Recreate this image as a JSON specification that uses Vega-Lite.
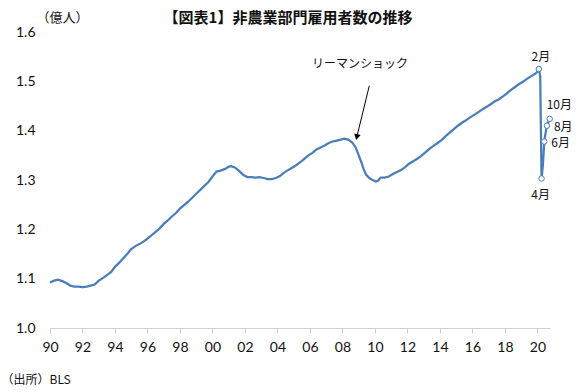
{
  "$schema": "https://vega.github.io/schema/vega-lite/v6.json",
  "width": 500,
  "height": 296,
  "autosize": "none",
  "padding": {"left": 50, "top": 32, "right": 27, "bottom": 64},
  "background": "white",
  "config": {"view": {"stroke": null}, "font": "Lato"},
  "title": {
    "text": "【図表1】非農業部門雇用者数の推移",
    "font": "Noto Sans CJK JP",
    "fontSize": 15,
    "fontWeight": "bold",
    "color": "#111111",
    "anchor": "middle",
    "dx": -12,
    "dy": 19,
    "offset": 4
  },
  "datasets": {
    "series": [
      {"t": 1990.0, "v": 1.092}, {"t": 1990.25, "v": 1.096}, {"t": 1990.5, "v": 1.098}, {"t": 1990.75, "v": 1.095},
      {"t": 1991.0, "v": 1.091}, {"t": 1991.25, "v": 1.086}, {"t": 1991.5, "v": 1.084}, {"t": 1991.75, "v": 1.084},
      {"t": 1992.0, "v": 1.083}, {"t": 1992.25, "v": 1.084}, {"t": 1992.5, "v": 1.086}, {"t": 1992.75, "v": 1.088},
      {"t": 1993.0, "v": 1.096}, {"t": 1993.25, "v": 1.101}, {"t": 1993.5, "v": 1.107}, {"t": 1993.75, "v": 1.113},
      {"t": 1994.0, "v": 1.124}, {"t": 1994.25, "v": 1.132}, {"t": 1994.5, "v": 1.141}, {"t": 1994.75, "v": 1.15},
      {"t": 1995.0, "v": 1.16}, {"t": 1995.25, "v": 1.166}, {"t": 1995.5, "v": 1.17}, {"t": 1995.75, "v": 1.175},
      {"t": 1996.0, "v": 1.181}, {"t": 1996.25, "v": 1.188}, {"t": 1996.5, "v": 1.195}, {"t": 1996.75, "v": 1.202},
      {"t": 1997.0, "v": 1.211}, {"t": 1997.25, "v": 1.218}, {"t": 1997.5, "v": 1.226}, {"t": 1997.75, "v": 1.233},
      {"t": 1998.0, "v": 1.242}, {"t": 1998.25, "v": 1.249}, {"t": 1998.5, "v": 1.256}, {"t": 1998.75, "v": 1.264},
      {"t": 1999.0, "v": 1.272}, {"t": 1999.25, "v": 1.28}, {"t": 1999.5, "v": 1.288}, {"t": 1999.75, "v": 1.296},
      {"t": 2000.0, "v": 1.307}, {"t": 2000.25, "v": 1.317}, {"t": 2000.5, "v": 1.319}, {"t": 2000.75, "v": 1.322},
      {"t": 2001.0, "v": 1.327}, {"t": 2001.15, "v": 1.328}, {"t": 2001.4, "v": 1.325}, {"t": 2001.65, "v": 1.318},
      {"t": 2001.9, "v": 1.31}, {"t": 2002.15, "v": 1.306}, {"t": 2002.4, "v": 1.306}, {"t": 2002.65, "v": 1.305},
      {"t": 2002.9, "v": 1.306}, {"t": 2003.15, "v": 1.304}, {"t": 2003.4, "v": 1.302}, {"t": 2003.65, "v": 1.302},
      {"t": 2003.9, "v": 1.304}, {"t": 2004.15, "v": 1.308}, {"t": 2004.4, "v": 1.315}, {"t": 2004.65, "v": 1.32},
      {"t": 2004.9, "v": 1.325}, {"t": 2005.15, "v": 1.33}, {"t": 2005.4, "v": 1.336}, {"t": 2005.65, "v": 1.343},
      {"t": 2005.9, "v": 1.35}, {"t": 2006.15, "v": 1.355}, {"t": 2006.4, "v": 1.362}, {"t": 2006.65, "v": 1.366},
      {"t": 2006.9, "v": 1.37}, {"t": 2007.15, "v": 1.375}, {"t": 2007.4, "v": 1.378}, {"t": 2007.65, "v": 1.38},
      {"t": 2007.9, "v": 1.382}, {"t": 2008.1, "v": 1.384}, {"t": 2008.35, "v": 1.382}, {"t": 2008.6, "v": 1.376},
      {"t": 2008.8, "v": 1.367}, {"t": 2009.0, "v": 1.35}, {"t": 2009.15, "v": 1.337}, {"t": 2009.3, "v": 1.322},
      {"t": 2009.45, "v": 1.311}, {"t": 2009.65, "v": 1.304}, {"t": 2009.85, "v": 1.3}, {"t": 2010.05, "v": 1.297},
      {"t": 2010.2, "v": 1.299}, {"t": 2010.35, "v": 1.305}, {"t": 2010.6, "v": 1.305}, {"t": 2010.85, "v": 1.307},
      {"t": 2011.1, "v": 1.312}, {"t": 2011.35, "v": 1.316}, {"t": 2011.6, "v": 1.32}, {"t": 2011.85, "v": 1.326},
      {"t": 2012.1, "v": 1.333}, {"t": 2012.35, "v": 1.338}, {"t": 2012.6, "v": 1.343}, {"t": 2012.85, "v": 1.349},
      {"t": 2013.1, "v": 1.356}, {"t": 2013.35, "v": 1.363}, {"t": 2013.6, "v": 1.369}, {"t": 2013.85, "v": 1.375},
      {"t": 2014.1, "v": 1.381}, {"t": 2014.35, "v": 1.389}, {"t": 2014.6, "v": 1.396}, {"t": 2014.85, "v": 1.403},
      {"t": 2015.1, "v": 1.41}, {"t": 2015.35, "v": 1.416}, {"t": 2015.6, "v": 1.421}, {"t": 2015.85, "v": 1.427},
      {"t": 2016.1, "v": 1.432}, {"t": 2016.35, "v": 1.437}, {"t": 2016.6, "v": 1.443}, {"t": 2016.85, "v": 1.448},
      {"t": 2017.1, "v": 1.453}, {"t": 2017.35, "v": 1.459}, {"t": 2017.6, "v": 1.463}, {"t": 2017.85, "v": 1.469},
      {"t": 2018.1, "v": 1.475}, {"t": 2018.35, "v": 1.482}, {"t": 2018.6, "v": 1.488}, {"t": 2018.85, "v": 1.494},
      {"t": 2019.1, "v": 1.499}, {"t": 2019.35, "v": 1.505}, {"t": 2019.6, "v": 1.51}, {"t": 2019.85, "v": 1.515},
      {"t": 2020.0, "v": 1.52}, {"t": 2020.083, "v": 1.525}, {"t": 2020.167, "v": 1.51}, {"t": 2020.25, "v": 1.303},
      {"t": 2020.333, "v": 1.33}, {"t": 2020.417, "v": 1.378}, {"t": 2020.5, "v": 1.396}, {"t": 2020.583, "v": 1.41},
      {"t": 2020.667, "v": 1.417}, {"t": 2020.75, "v": 1.424}
    ],
    "marks": [
      {"t": 2020.083, "v": 1.525, "label": "2月"},
      {"t": 2020.25, "v": 1.303, "label": "4月"},
      {"t": 2020.417, "v": 1.378, "label": "6月"},
      {"t": 2020.583, "v": 1.41, "label": "8月"},
      {"t": 2020.75, "v": 1.424, "label": "10月"}
    ],
    "arrow": [
      {"t": 2009.65, "v": 1.491, "t2": 2008.88, "v2": 1.387, "note": "リーマンショック", "nt": 2009.08, "nv": 1.5355}
    ]
  },
  "layer": [
    {
      "data": {"name": "series"},
      "mark": {"type": "line", "color": "#4A7EBB", "strokeWidth": 2.25, "clip": false},
      "encoding": {
        "x": {
          "field": "t", "type": "quantitative",
          "scale": {"domain": [1990, 2020.77], "nice": false, "zero": false},
          "axis": {
            "values": [1990, 1992, 1994, 1996, 1998, 2000, 2002, 2004, 2006, 2008, 2010, 2012, 2014, 2016, 2018, 2020],
            "tickCount": 40,
            "labelExpr": "substring(toString(datum.value), 2)",
            "grid": false,
            "domainColor": "#D0D0D0",
            "tickColor": "#D0D0D0",
            "tickSize": 5,
            "labelPadding": 7,
            "labelFont": "Lato",
            "labelFontSize": 14,
            "labelColor": "#111111",
            "labelFlush": false,
            "labelOverlap": false,
            "title": "（出所）BLS",
            "titleFont": "Noto Sans CJK JP",
            "titleFontSize": 12,
            "titleFontWeight": "normal",
            "titleColor": "#111111",
            "titleX": -49,
            "titleY": 51,
            "titleAlign": "left",
            "titleBaseline": "middle",
            "titleAnchor": null
          }
        },
        "y": {
          "field": "v", "type": "quantitative",
          "scale": {"domain": [1.0, 1.6], "nice": false, "zero": false},
          "axis": {
            "values": [1.0, 1.1, 1.2, 1.3, 1.4, 1.5, 1.6],
            "tickCount": 20,
            "format": ".1f",
            "grid": false,
            "domain": false,
            "ticks": false,
            "labelPadding": 15,
            "labelFont": "Lato",
            "labelFontSize": 14,
            "labelColor": "#111111",
            "title": "（億人）",
            "titleFont": "Noto Sans CJK JP",
            "titleFontSize": 13,
            "titleFontWeight": "normal",
            "titleColor": "#111111",
            "titleAngle": 0,
            "titleX": -14,
            "titleY": -15,
            "titleAlign": "left",
            "titleBaseline": "middle",
            "titleAnchor": null
          }
        }
      }
    },
    {
      "data": {"name": "marks"},
      "mark": {"type": "point", "shape": "circle", "filled": true, "fill": "white", "stroke": "#4A7EBB", "strokeWidth": 1, "size": 30, "opacity": 1},
      "encoding": {
        "x": {"field": "t", "type": "quantitative"},
        "y": {"field": "v", "type": "quantitative"}
      }
    },
    {
      "data": {"name": "marks"},
      "transform": [{"filter": "datum.label == '2月'"}],
      "mark": {"type": "text", "font": "Noto Sans CJK JP", "fontSize": 12, "color": "#111111", "align": "center", "baseline": "middle", "dx": 2, "dy": -12},
      "encoding": {
        "x": {"field": "t", "type": "quantitative"},
        "y": {"field": "v", "type": "quantitative"},
        "text": {"field": "label"}
      }
    },
    {
      "data": {"name": "marks"},
      "transform": [{"filter": "datum.label == '4月'"}],
      "mark": {"type": "text", "font": "Noto Sans CJK JP", "fontSize": 12, "color": "#111111", "align": "center", "baseline": "middle", "dx": -1, "dy": 16},
      "encoding": {
        "x": {"field": "t", "type": "quantitative"},
        "y": {"field": "v", "type": "quantitative"},
        "text": {"field": "label"}
      }
    },
    {
      "data": {"name": "marks"},
      "transform": [{"filter": "datum.label == '6月' || datum.label == '8月'"}],
      "mark": {"type": "text", "font": "Noto Sans CJK JP", "fontSize": 12, "color": "#111111", "align": "left", "baseline": "middle", "dx": 7, "dy": 1},
      "encoding": {
        "x": {"field": "t", "type": "quantitative"},
        "y": {"field": "v", "type": "quantitative"},
        "text": {"field": "label"}
      }
    },
    {
      "data": {"name": "marks"},
      "transform": [{"filter": "datum.label == '10月'"}],
      "mark": {"type": "text", "font": "Noto Sans CJK JP", "fontSize": 12, "color": "#111111", "align": "left", "baseline": "middle", "dx": -3, "dy": -14},
      "encoding": {
        "x": {"field": "t", "type": "quantitative"},
        "y": {"field": "v", "type": "quantitative"},
        "text": {"field": "label"}
      }
    },
    {
      "data": {"name": "arrow"},
      "mark": {"type": "rule", "color": "#000000", "strokeWidth": 1},
      "encoding": {
        "x": {"field": "t", "type": "quantitative"},
        "y": {"field": "v", "type": "quantitative"},
        "x2": {"field": "t2"},
        "y2": {"field": "v2"}
      }
    },
    {
      "data": {"name": "arrow"},
      "mark": {"type": "point", "shape": "triangle-down", "filled": true, "color": "#000000", "size": 45, "angle": 13, "opacity": 1},
      "encoding": {
        "x": {"field": "t2", "type": "quantitative"},
        "y": {"field": "v2", "type": "quantitative"}
      }
    },
    {
      "data": {"name": "arrow"},
      "mark": {"type": "text", "font": "Noto Sans CJK JP", "fontSize": 12, "color": "#111111", "align": "center", "baseline": "middle"},
      "encoding": {
        "x": {"field": "nt", "type": "quantitative"},
        "y": {"field": "nv", "type": "quantitative"},
        "text": {"field": "note"}
      }
    }
  ]
}
